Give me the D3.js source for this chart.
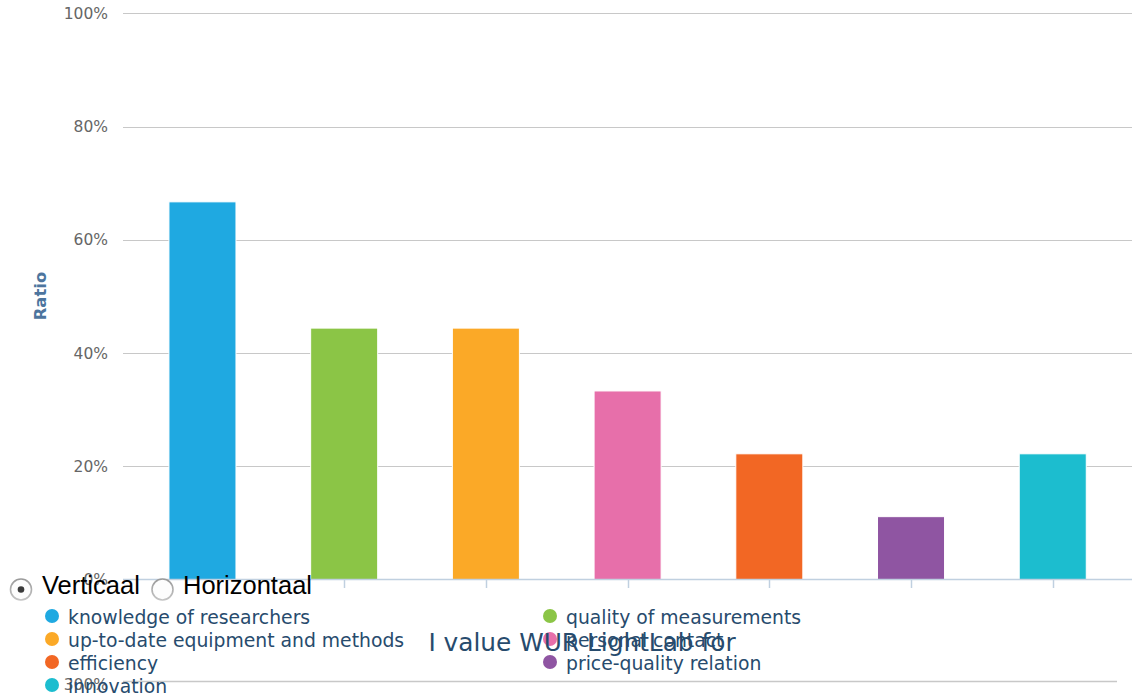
<!DOCTYPE html>
<html>
<head>
<meta charset="utf-8">
<script src="https://cdn.jsdelivr.net/npm/d3@7/dist/d3.min.js"></script>
<style>
  body { margin: 0; background: #fff; }
  svg { display: block; }
</style>
</head>
<body>
<svg id="chart" width="1132" height="700"></svg>
<script>
// chart data
var categories = ["knowledge of researchers", "quality of measurements", "up-to-date equipment and methods",
  "personal contact", "efficiency", "price-quality relation", "innovation"];
var ratios = [66.7, 44.4, 44.4, 33.3, 22.2, 11.1, 22.2];
var colors = ["#1fa9e1", "#8bc546", "#fba927", "#e76faa", "#f26724", "#8f55a2", "#1cbdcf"];
var yTicks = [0, 20, 40, 60, 80, 100];
var secondTicks = [300];
var titleText = "I value WUR LightLab for";
var radioLabels = ["Verticaal", "Horizontaal"];

var svg = d3.select("#chart");
var font = "'DejaVu Sans', Verdana, sans-serif";

// scales
var y = d3.scaleLinear().domain([0, 100]).range([579.5, 13.3]);
var x = d3.scaleBand().domain(categories).range([131.6, 1123.6]).paddingInner(0.527).paddingOuter(0.2635);

// grid lines
svg.append("g").selectAll("line").data(yTicks.slice(1))
  .enter().append("line")
    .attr("x1", 123).attr("x2", 1132)
    .attr("y1", d => Math.round(y(d)) + 0.5).attr("y2", d => Math.round(y(d)) + 0.5)
    .style("stroke", "#c8c8c8").style("stroke-width", 1);

// bars
svg.append("g").selectAll("rect").data(ratios)
  .enter().append("rect")
    .attr("x", (d, i) => x(categories[i]))
    .attr("y", d => y(d))
    .attr("width", x.bandwidth())
    .attr("height", d => y(0) - y(d))
    .style("fill", (d, i) => colors[i])
    .style("stroke", "#fff").style("stroke-width", 1);

// x axis line + ticks
svg.append("line")
  .attr("x1", 123).attr("x2", 1132).attr("y1", 579.5).attr("y2", 579.5)
  .style("stroke", "#c0d0e0").style("stroke-width", 1.5);
svg.append("g").selectAll("line").data(categories.slice(1))
  .enter().append("line")
    .attr("x1", d => Math.round(x(d) + x.bandwidth() / 2) + 0.5)
    .attr("x2", d => Math.round(x(d) + x.bandwidth() / 2) + 0.5)
    .attr("y1", 580).attr("y2", 588)
    .style("stroke", "#c0d0e0").style("stroke-width", 1.5);

// second (broken) axis line at the bottom
svg.append("line")
  .attr("x1", 123).attr("x2", 1117).attr("y1", 681.5).attr("y2", 681.5)
  .style("stroke", "#c8c8c8").style("stroke-width", 1.5);

// y labels
svg.append("g").selectAll("text").data(yTicks)
  .enter().append("text")
    .attr("x", 108).attr("y", d => y(d) + 5.5)
    .text(d => d + "%")
    .attr("fill", "#666")
    .style("text-anchor", "end")
    .style("font-family", font)
    .style("font-size", "15.5px");

svg.append("g").selectAll("text").data(secondTicks)
  .enter().append("text")
    .attr("x", 108).attr("y", 690)
    .text(d => d + "%")
    .attr("fill", "#666")
    .style("text-anchor", "end")
    .style("font-family", font)
    .style("font-size", "15.5px");

// y axis title
svg.append("text")
  .text("Ratio")
  .attr("transform", "translate(46,296) rotate(-90)")
  .attr("fill", "#4d759e")
  .style("text-anchor", "middle")
  .style("font-family", font)
  .style("font-weight", "bold")
  .style("font-size", "16.5px");

// radio buttons
var grad = svg.append("defs").append("linearGradient")
  .attr("id", "rg").attr("x1", 0).attr("y1", 0).attr("x2", 0).attr("y2", 1);
grad.append("stop").attr("offset", "0%").attr("stop-color", "#9a9a9a");
grad.append("stop").attr("offset", "100%").attr("stop-color", "#c4c4c4");

var radioX = [21, 162.5];
var radioTextX = [42, 183];
radioLabels.forEach(function(t, i) {
  svg.append("circle")
    .attr("cx", radioX[i]).attr("cy", 589.5).attr("r", 10.5)
    .style("fill", "#fdfdfd").style("stroke", "url(#rg)").style("stroke-width", 1.6);
  if (i == 0) {
    svg.append("circle")
      .attr("cx", radioX[i]).attr("cy", 589.5).attr("r", 3.3)
      .style("fill", "#3a3a3a");
  }
  svg.append("text")
    .text(t)
    .attr("x", radioTextX[i]).attr("y", 594)
    .attr("fill", "#000")
    .style("font-family", "'Liberation Sans', Arial, sans-serif")
    .style("font-size", "25.5px");
});

// legend, two columns filled row by row
var legend = svg.append("g").selectAll("g").data(categories)
  .enter().append("g")
    .attr("transform", (d, i) => "translate(" + (i % 2 == 0 ? 52 : 550) + "," + (616 + Math.floor(i / 2) * 23) + ")");
legend.append("circle")
  .attr("r", 7)
  .style("fill", (d, i) => colors[i]);
legend.append("text")
  .text(d => d)
  .attr("x", 16).attr("y", 8)
  .attr("fill", "#274b6d")
  .style("font-family", font)
  .style("font-size", "18.8px");

// title (drawn over the legend as in the reference)
svg.append("text")
  .text(titleText)
  .attr("x", 582).attr("y", 651)
  .attr("fill", "#274b6d")
  .style("text-anchor", "middle")
  .style("font-family", font)
  .style("font-size", "24.8px");
</script>
</body>
</html>
